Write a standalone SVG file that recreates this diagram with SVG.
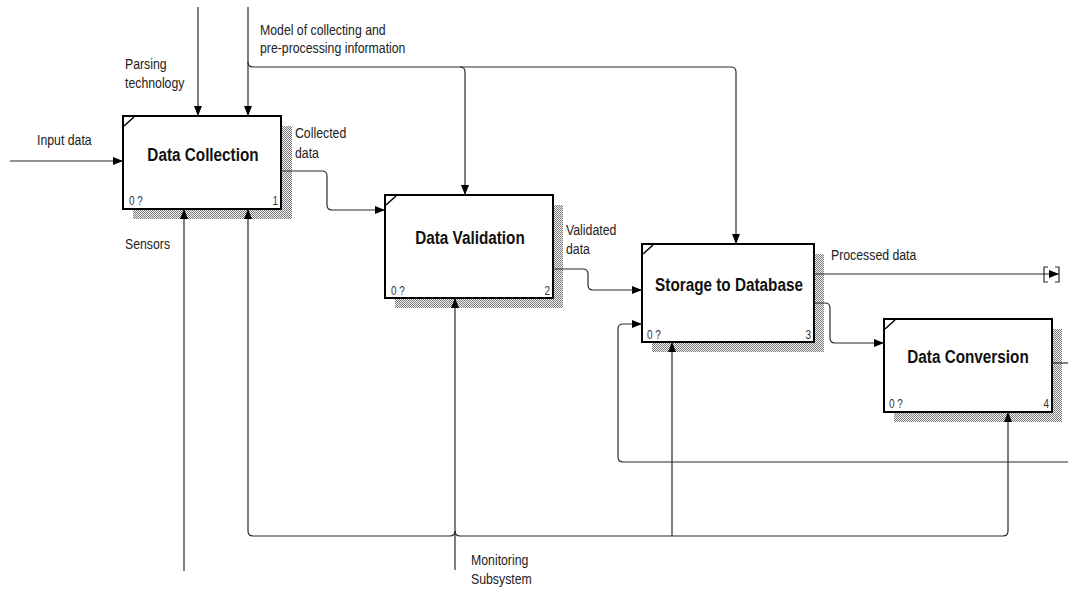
<svg xmlns="http://www.w3.org/2000/svg" width="1068" height="590" viewBox="0 0 1068 590">
<style>
.lbl{font-family:"Liberation Sans",Arial,sans-serif;font-size:12.3px;fill:#222}
.ttl{font-family:"Liberation Sans",Arial,sans-serif;font-size:15.3px;font-weight:bold;fill:#111;text-anchor:middle}
.num{font-family:"Liberation Sans",Arial,sans-serif;font-size:10px;fill:#333}
.rn{text-anchor:end}
.box{fill:#fff;stroke:#000;stroke-width:2}
.shd{fill:url(#hatch)}
.crn{stroke:#000;stroke-width:1.5}
.ln{fill:none;stroke:#2a2a2a;stroke-width:1.2}
.ar{marker-end:url(#arr)}
</style>
<defs>
<pattern id="hatch" width="2" height="2" patternUnits="userSpaceOnUse">
<rect width="2" height="2" fill="#f4f4f4"/>
<rect width="1" height="1" fill="#7a7a7a"/>
<rect x="1" y="1" width="1" height="1" fill="#7a7a7a"/>
</pattern>
<marker id="arr" viewBox="0 0 10 8" refX="10" refY="4" markerWidth="10" markerHeight="8" markerUnits="userSpaceOnUse" orient="auto">
<path d="M0,0 L10,4 L0,8 z" fill="#000"/>
</marker>
</defs>
<rect width="1068" height="590" fill="#fff"/>

<g id="n1">
<rect class="shd" x="133" y="126" width="159" height="93"/>
<rect class="box" x="123" y="116" width="158" height="93"/>
<line class="crn" x1="124" y1="126" x2="134" y2="117"/>
<text class="ttl" transform="translate(203,161) scale(1,1.18)">Data Collection</text>
<text class="num" transform="translate(129,205) scale(1,1.28)">0 ?</text>
<text class="num rn" transform="translate(278,205) scale(1,1.28)">1</text>
</g>

<g id="n2">
<rect class="shd" x="395" y="205" width="168" height="103"/>
<rect class="box" x="385" y="195" width="168" height="103"/>
<line class="crn" x1="386" y1="205" x2="396" y2="196"/>
<text class="ttl" transform="translate(470,244) scale(1,1.18)">Data Validation</text>
<text class="num" transform="translate(391,295) scale(1,1.28)">0 ?</text>
<text class="num rn" transform="translate(550,295) scale(1,1.28)">2</text>
</g>

<g id="n3">
<rect class="shd" x="652" y="254" width="172" height="98"/>
<rect class="box" x="642" y="244" width="172" height="98"/>
<line class="crn" x1="643" y1="254" x2="653" y2="245"/>
<text class="ttl" transform="translate(729,291) scale(1,1.18)">Storage to Database</text>
<text class="num" transform="translate(647,339) scale(1,1.28)">0 ?</text>
<text class="num rn" transform="translate(811,339) scale(1,1.28)">3</text>
</g>

<g id="n4">
<rect class="shd" x="894" y="329" width="168" height="93"/>
<rect class="box" x="884" y="319" width="168" height="93"/>
<line class="crn" x1="885" y1="329" x2="895" y2="320"/>
<text class="ttl" transform="translate(968,363) scale(1,1.18)">Data Conversion</text>
<text class="num" transform="translate(889,408) scale(1,1.28)">0 ?</text>
<text class="num rn" transform="translate(1049,408) scale(1,1.28)">4</text>
</g>

<g id="connectors">
<path class="ln ar" d="M10,161 H123"/>
<path class="ln ar" d="M198,7 V116"/>
<path class="ln ar" d="M248,7 V116"/>
<path class="ln" d="M248,62 Q248,67 253,67 H731 Q736,67 736,72"/>
<path class="ln ar" d="M736,72 V244"/>
<path class="ln ar" d="M460,67 Q465,67 465,72 V195"/>
<path class="ln ar" d="M184,571 V209"/>
<path class="ln ar" d="M455,570 V298"/>
<path class="ln" d="M455,531 Q455,536 450,536 H253 Q248,536 248,531"/>
<path class="ln ar" d="M248,531 V209"/>
<path class="ln" d="M455,531 Q455,536 460,536 H1003 Q1008,536 1008,531"/>
<path class="ln ar" d="M1008,531 V412"/>
<path class="ln ar" d="M672,536 V342"/>
<path class="ln ar" d="M281,171 H322 Q327,171 327,176 V205 Q327,210 332,210 H385"/>
<path class="ln ar" d="M553,269 H583 Q588,269 588,274 V285 Q588,290 593,290 H642"/>
<path class="ln ar" d="M814,303 H825 Q830,303 830,308 V338 Q830,343 835,343 H884"/>
<path class="ln ar" d="M1068,462 H623 Q618,462 618,457 V329 Q618,324 623,324 H642"/>
<path class="ln ar" d="M814,274 H1059"/>
<path class="ln" d="M1048,267 H1044 V282 H1048 M1055,267 H1059 V282 H1055"/>
<path class="ln" d="M1052,363 H1068"/>
</g>

<g id="labels">
<text class="lbl" transform="translate(37,145) scale(1,1.25)">Input data</text>
<text class="lbl" transform="translate(125,69) scale(1,1.25)">Parsing</text>
<text class="lbl" transform="translate(125,88) scale(1,1.25)">technology</text>
<text class="lbl" transform="translate(260,35) scale(1,1.25)">Model of collecting and</text>
<text class="lbl" transform="translate(260,53) scale(1,1.25)">pre-processing information</text>
<text class="lbl" transform="translate(295,138) scale(1,1.25)">Collected</text>
<text class="lbl" transform="translate(295,158) scale(1,1.25)">data</text>
<text class="lbl" transform="translate(125,249) scale(1,1.25)">Sensors</text>
<text class="lbl" transform="translate(566,235) scale(1,1.25)">Validated</text>
<text class="lbl" transform="translate(566,254) scale(1,1.25)">data</text>
<text class="lbl" transform="translate(831,260) scale(1,1.25)">Processed data</text>
<text class="lbl" transform="translate(471,565) scale(1,1.25)">Monitoring</text>
<text class="lbl" transform="translate(471,584) scale(1,1.25)">Subsystem</text>
</g>
</svg>
